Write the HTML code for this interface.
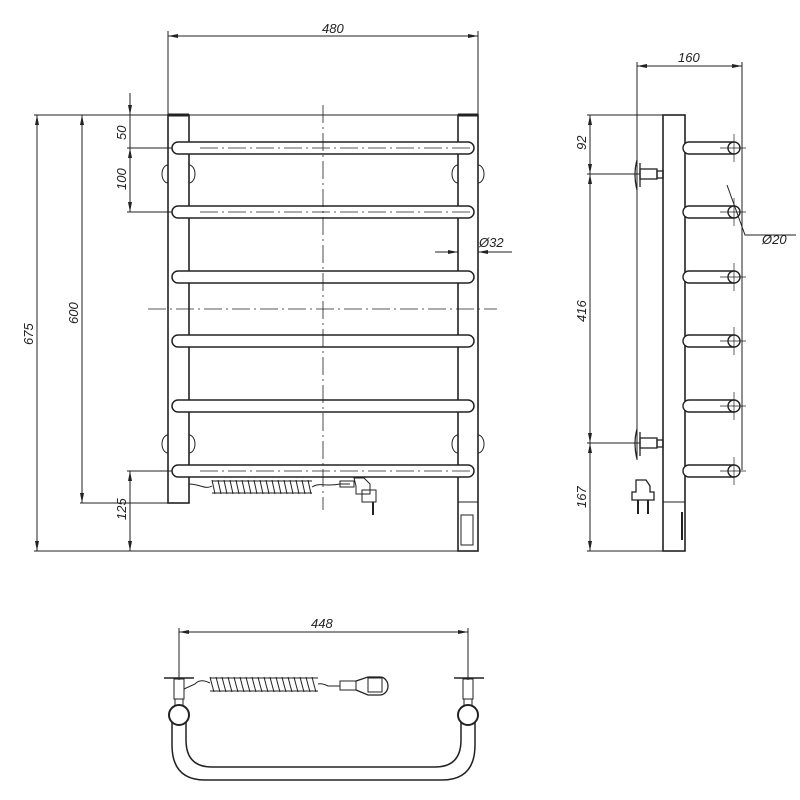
<!DOCTYPE html>
<html><head><meta charset="utf-8"><style>html,body{margin:0;padding:0;background:#fff}svg{display:block}text{font-family:"Liberation Sans",sans-serif;font-size:13px;font-style:italic;fill:#222}</style></head>
<body>
<svg width="800" height="800" viewBox="0 0 800 800" xmlns="http://www.w3.org/2000/svg">
<defs>
<marker id="a" viewBox="0 0 10 4" refX="10" refY="2" markerWidth="10" markerHeight="4" orient="auto-start-reverse" markerUnits="userSpaceOnUse"><path d="M0,0 L10,2 L0,4z" fill="#222"/></marker>
</defs>
<g stroke="#222" fill="none" stroke-width="1">
<!-- FRONT VIEW -->
<line x1="168" y1="31" x2="168" y2="115"/>
<line x1="478" y1="31" x2="478" y2="115"/>
<line x1="168" y1="36" x2="478" y2="36" marker-start="url(#a)" marker-end="url(#a)"/>
<line x1="34" y1="115" x2="478" y2="115"/>
<line x1="34" y1="551" x2="478" y2="551"/>
<line x1="37" y1="115" x2="37" y2="551" marker-start="url(#a)" marker-end="url(#a)"/>
<line x1="80" y1="503" x2="168" y2="503"/>
<line x1="82" y1="115" x2="82" y2="503" marker-start="url(#a)" marker-end="url(#a)"/>
<line x1="130" y1="93" x2="130" y2="115" marker-end="url(#a)"/>
<line x1="130" y1="148" x2="130" y2="212" marker-start="url(#a)" marker-end="url(#a)"/>
<line x1="130" y1="115" x2="130" y2="148"/>
<line x1="127" y1="148" x2="172" y2="148"/>
<line x1="127" y1="212" x2="172" y2="212"/>
<line x1="127" y1="471" x2="172" y2="471"/>
<line x1="130" y1="471" x2="130" y2="551" marker-start="url(#a)" marker-end="url(#a)"/>
<!-- posts -->
<rect x="168" y="115" width="21" height="388" stroke-width="1.6"/>
<rect x="458" y="115" width="20" height="436" stroke-width="1.6"/>
<line x1="458" y1="502" x2="478" y2="502"/>
<rect x="461" y="515" width="12" height="30"/>
<line x1="168" y1="115" x2="189" y2="115" stroke-width="3"/>
<line x1="458" y1="115" x2="478" y2="115" stroke-width="3"/>
<!-- wall mounts -->
<path d="M168,165 a6,9 0 0 0 0,18 M189,165 a6,9 0 0 1 0,18 M458,165 a6,9 0 0 0 0,18 M478,165 a6,9 0 0 1 0,18"/>
<path d="M168,435 a6,9 0 0 0 0,18 M189,435 a6,9 0 0 1 0,18 M458,435 a6,9 0 0 0 0,18 M478,435 a6,9 0 0 1 0,18"/>
<!-- bars -->
<g fill="#fff" stroke-width="1.5">
<rect x="172" y="142" width="302" height="12" rx="6"/>
<rect x="172" y="206" width="302" height="12" rx="6"/>
<rect x="172" y="271" width="302" height="12" rx="6"/>
<rect x="172" y="335" width="302" height="12" rx="6"/>
<rect x="172" y="400" width="302" height="12" rx="6"/>
<rect x="172" y="465" width="302" height="12" rx="6"/>
</g>
<g stroke-dasharray="18,4,2,4" stroke-width="0.8">
<line x1="200" y1="148" x2="470" y2="148"/>
<line x1="200" y1="212" x2="470" y2="212"/>
<line x1="200" y1="471" x2="470" y2="471"/>
<line x1="323" y1="105" x2="323" y2="510"/>
<line x1="148" y1="309" x2="497" y2="309"/>
</g>
<!-- O32 -->
<line x1="435" y1="252" x2="458" y2="252" marker-end="url(#a)"/>
<line x1="512" y1="252" x2="478" y2="252" marker-end="url(#a)"/>
<!-- coil cable front -->
<path d="M189,484 C200,484 205,490 212,486"/>
<path d="M212,480 l3,14 M218,480 l3,14 M224,480 l3,14 M230,480 l3,14 M236,480 l3,14 M242,480 l3,14 M248,480 l3,14 M254,480 l3,14 M260,480 l3,14 M266,480 l3,14 M272,480 l3,14 M278,480 l3,14 M284,480 l3,14 M290,480 l3,14 M296,480 l3,14 M302,480 l3,14 M308,480 l3,14"/>
<path d="M212,481 H312 M212,493 H312"/>
<path d="M312,487 C320,482 325,487 340,484 H350"/>
<rect x="340" y="481" width="14" height="6"/>
<path d="M354,478 h10 l6,6 v10 h-14 v-8 z"/>
<rect x="362" y="490" width="14" height="12"/>
<line x1="373" y1="502" x2="373" y2="515" stroke-width="2"/>
<!-- SIDE VIEW -->
<line x1="637" y1="62" x2="637" y2="460"/>
<line x1="742" y1="62" x2="742" y2="470"/>
<line x1="637" y1="66" x2="742" y2="66" marker-start="url(#a)" marker-end="url(#a)"/>
<rect x="663" y="115" width="22" height="436" stroke-width="1.6"/>
<line x1="663" y1="502" x2="685" y2="502"/>
<line x1="682" y1="512" x2="682" y2="540" stroke-width="2"/>
<line x1="587" y1="115" x2="663" y2="115"/>
<line x1="587" y1="174" x2="640" y2="174"/>
<line x1="587" y1="443" x2="640" y2="443"/>
<line x1="587" y1="551" x2="663" y2="551"/>
<line x1="590" y1="115" x2="590" y2="174" marker-start="url(#a)" marker-end="url(#a)"/>
<line x1="590" y1="174" x2="590" y2="443" marker-start="url(#a)" marker-end="url(#a)"/>
<line x1="590" y1="443" x2="590" y2="551" marker-start="url(#a)" marker-end="url(#a)"/>
<!-- brackets -->
<g stroke-width="1.3">
<path d="M637,160 q-4,14 0,30 M640,163 v24"/>
<rect x="640" y="169" width="17" height="10"/><rect x="657" y="171" width="6" height="7"/>
<path d="M637,429 q-4,14 0,30 M640,432 v24"/>
<rect x="640" y="438" width="17" height="10"/><rect x="657" y="440" width="6" height="7"/>
</g>
<!-- side bars -->
<g stroke-width="1.4" fill="#fff">
<path d="M734,142 H689 a6,6 0 0 0 0,12 H734"/><circle cx="734" cy="148" r="6"/>
<path d="M734,206 H689 a6,6 0 0 0 0,12 H734"/><circle cx="734" cy="212" r="6"/>
<path d="M734,271 H689 a6,6 0 0 0 0,12 H734"/><circle cx="734" cy="277" r="6"/>
<path d="M734,335 H689 a6,6 0 0 0 0,12 H734"/><circle cx="734" cy="341" r="6"/>
<path d="M734,400 H689 a6,6 0 0 0 0,12 H734"/><circle cx="734" cy="406" r="6"/>
<path d="M734,465 H689 a6,6 0 0 0 0,12 H734"/><circle cx="734" cy="471" r="6"/>
</g>
<g stroke-width="0.7">
<path d="M720,148 h26 M734,134 v28 M720,212 h26 M734,198 v28 M720,277 h26 M734,263 v28 M720,341 h26 M734,327 v28 M720,406 h26 M734,392 v28 M720,471 h26 M734,457 v28"/>
</g>
<path d="M727,185 L745,235 H796"/>
<!-- plug side -->
<path d="M636,480 h10 l4,6 v6 h4 v8 h-22 v-8 h4 v-6 z" stroke-width="1.3"/>
<path d="M638,500 v14 M648,500 v14" stroke-width="2"/>
<!-- TOP VIEW -->
<line x1="179" y1="628" x2="179" y2="680"/>
<line x1="468" y1="628" x2="468" y2="680"/>
<line x1="179" y1="632" x2="468" y2="632" marker-start="url(#a)" marker-end="url(#a)"/>
<path d="M164,678 H194 M454,678 H484" stroke-width="1.5"/>
<rect x="174" y="679" width="10" height="20"/><rect x="463" y="679" width="10" height="20"/>
<rect x="175" y="699" width="8" height="6"/><rect x="464" y="699" width="8" height="6"/>
<path d="M172,720 V745 Q172,780 205,780 H442 Q475,780 475,745 V720" stroke-width="1.5"/>
<path d="M186,720 V740 Q186,767 212,767 H435 Q461,767 461,740 V720" stroke-width="1.5"/>
<circle cx="179" cy="715" r="10" stroke-width="2" fill="#fff"/>
<circle cx="468" cy="715" r="10" stroke-width="2" fill="#fff"/>
<path d="M184,689 L195,684 Q200,678 210,683"/>
<path d="M210,677 q2,8 4,15 M216,677 q2,8 4,15 M222,677 q2,8 4,15 M228,677 q2,8 4,15 M234,677 q2,8 4,15 M240,677 q2,8 4,15 M246,677 q2,8 4,15 M252,677 q2,8 4,15 M258,677 q2,8 4,15 M264,677 q2,8 4,15 M270,677 q2,8 4,15 M276,677 q2,8 4,15 M282,677 q2,8 4,15 M288,677 q2,8 4,15 M294,677 q2,8 4,15 M300,677 q2,8 4,15 M306,677 q2,8 4,15 M312,677 q2,8 4,15"/>
<path d="M210,678 H318 M210,691 H318"/>
<path d="M318,684 Q322,683 328,686 H340"/>
<rect x="340" y="681" width="16" height="9"/>
<path d="M356,681 L368,677 H380 a8,9 0 0 1 0,18 H368 L356,690" stroke-width="1.3"/>
<rect x="368" y="678" width="14" height="14"/>
</g>
<text x="322" y="33">480</text>
<text transform="translate(126,140) rotate(-90)">50</text>
<text transform="translate(126,190) rotate(-90)">100</text>
<text transform="translate(78,324) rotate(-90)">600</text>
<text transform="translate(33,345) rotate(-90)">675</text>
<text transform="translate(126,520) rotate(-90)">125</text>
<text x="479" y="247">Ø32</text>
<text x="678" y="62">160</text>
<text transform="translate(586,150) rotate(-90)">92</text>
<text transform="translate(586,322) rotate(-90)">416</text>
<text transform="translate(586,508) rotate(-90)">167</text>
<text x="762" y="244">Ø20</text>
<text x="311" y="628">448</text>
</svg>
</body></html>
